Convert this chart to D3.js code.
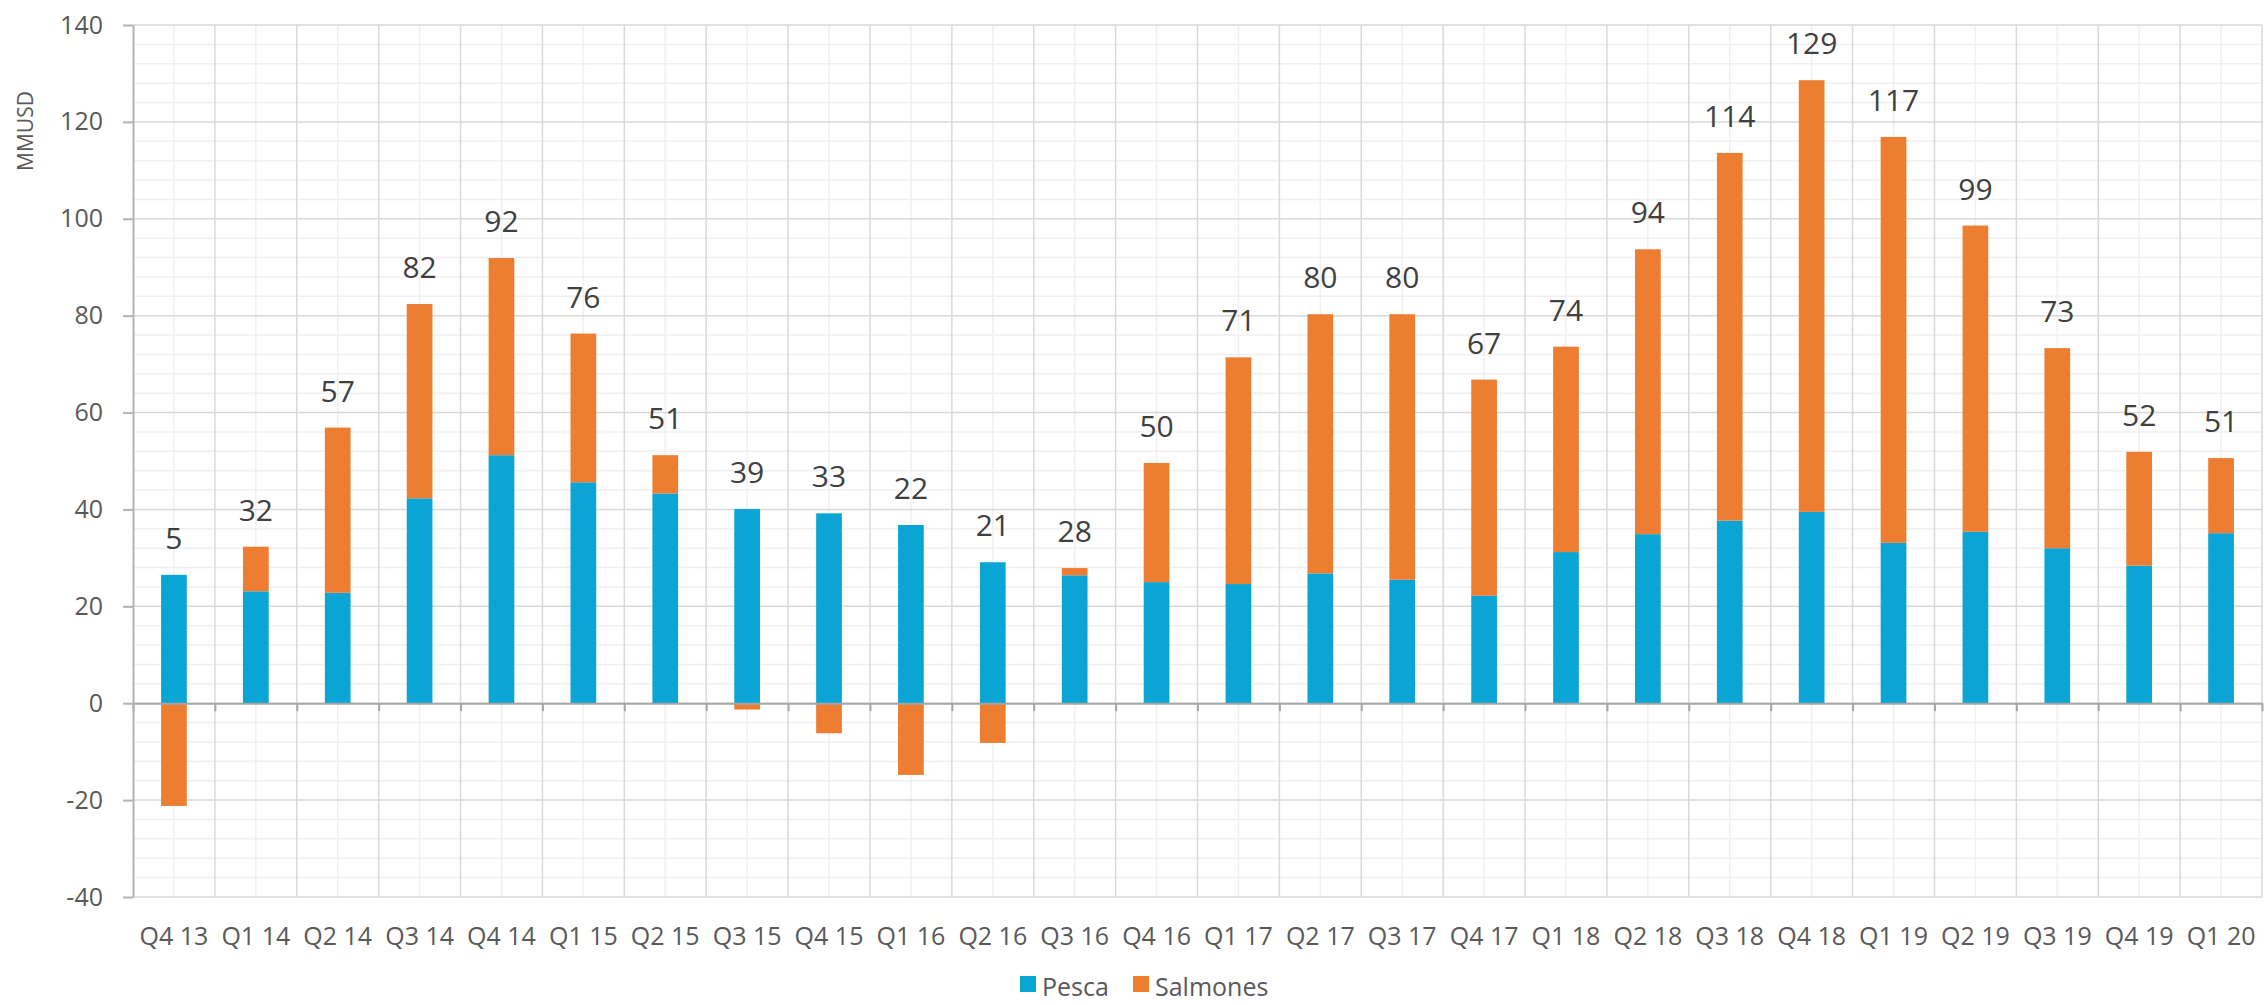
<!DOCTYPE html>
<meta charset="utf-8">
<script src="https://d3js.org/d3.v7.min.js"></script>
<style>
  body { margin: 0; background: #fff; }
  text { font-family: "Open Sans", sans-serif; }
</style>
<div id="chart"></div>
<script>

// quarters on the x axis
var quarters = ["Q4 13","Q1 14","Q2 14","Q3 14","Q4 14","Q1 15","Q2 15","Q3 15","Q4 15",
  "Q1 16","Q2 16","Q3 16","Q4 16","Q1 17","Q2 17","Q3 17","Q4 17","Q1 18","Q2 18",
  "Q3 18","Q4 18","Q1 19","Q2 19","Q3 19","Q4 19","Q1 20"];

// MMUSD per series
var pesca = [26.5, 23.1, 22.8, 42.3, 51.2, 45.6, 43.3, 40.1, 39.2, 36.8, 29.1, 26.4, 25.0,
  24.6, 26.8, 25.5, 22.2, 31.2, 34.9, 37.7, 39.5, 33.1, 35.4, 32.0, 28.4, 35.1];
var salmones = [-21.2, 9.2, 34.1, 40.1, 40.7, 30.7, 7.9, -1.3, -6.2, -14.8, -8.2, 1.5, 24.6,
  46.8, 53.5, 54.8, 44.6, 42.4, 58.8, 75.9, 89.1, 83.8, 63.2, 41.3, 23.5, 15.5];

var yTicks = [-40, -20, 0, 20, 40, 60, 80, 100, 120, 140];

var seriesNames = ["Pesca", "Salmones"];
var colors = {"Pesca": "#0aa5d4", "Salmones": "#ed7d31"};

var rows = quarters.map(function(q, i) {
  return {q: q, Pesca: pesca[i], Salmones: salmones[i]};
});

var W = 2264, H = 1005;
var margin = {top: 25, right: 2, bottom: 108, left: 133},
    width = W - margin.left - margin.right,
    height = H - margin.top - margin.bottom;

var root = d3.select("#chart").append("svg")
    .attr("width", W)
    .attr("height", H);

var svg = root.append("g")
    .attr("transform", "translate(" + margin.left + "," + margin.top + ")");

var x = d3.scaleBand()
    .domain(quarters)
    .range([0, width])
    .paddingInner(0.686)
    .paddingOuter(0.343);

// category boundaries (for gridlines and ticks)
var xb = d3.scaleLinear().domain([0, quarters.length]).range([0, width]);

var y = d3.scaleLinear()
    .domain([-40, 140])
    .range([height, 0]);

// minor horizontal gridlines
svg.append("g").selectAll("line")
  .data(d3.range(-40, 141, 4).filter(function(v) { return v % 20 !== 0; }))
  .join("line")
    .attr("x1", 0).attr("x2", width)
    .attr("y1", function(d) { return y(d); })
    .attr("y2", function(d) { return y(d); })
    .attr("stroke", "#f0f0f0").attr("stroke-width", 1.5);

// minor vertical gridlines at category centres
svg.append("g").selectAll("line")
  .data(quarters)
  .join("line")
    .attr("x1", function(d) { return x(d) + x.bandwidth() / 2; })
    .attr("x2", function(d) { return x(d) + x.bandwidth() / 2; })
    .attr("y1", 0).attr("y2", height)
    .attr("stroke", "#f0f0f0").attr("stroke-width", 1.5);

// major horizontal gridlines
svg.append("g").selectAll("line")
  .data(yTicks)
  .join("line")
    .attr("x1", 0).attr("x2", width)
    .attr("y1", function(d) { return y(d); })
    .attr("y2", function(d) { return y(d); })
    .attr("stroke", "#d9d9d9").attr("stroke-width", 1.5);

// major vertical gridlines at category boundaries
svg.append("g").selectAll("line")
  .data(d3.range(1, quarters.length + 1))
  .join("line")
    .attr("x1", function(d) { return xb(d); })
    .attr("x2", function(d) { return xb(d); })
    .attr("y1", 0).attr("y2", height)
    .attr("stroke", "#d9d9d9").attr("stroke-width", 1.5);

// stacked bars
var stack = d3.stack()
    .keys(seriesNames)
    .offset(d3.stackOffsetDiverging);
var layers = stack(rows);

svg.append("g").selectAll("g")
  .data(layers)
  .join("g")
    .attr("fill", function(d) { return colors[d.key]; })
  .selectAll("rect")
  .data(function(d) { return d; })
  .join("rect")
    .attr("x", function(d) { return x(d.data.q); })
    .attr("width", x.bandwidth())
    .attr("y", function(d) { return y(Math.max(d[0], d[1])); })
    .attr("height", function(d) { return Math.abs(y(d[0]) - y(d[1])); });

// zero axis with ticks at category boundaries
var zeroAxis = svg.append("g")
    .attr("transform", "translate(0," + y(0) + ")")
    .call(d3.axisBottom(xb).tickValues(d3.range(0, quarters.length + 1)).tickSize(8).tickSizeOuter(0).tickFormat(""));
zeroAxis.select(".domain").attr("stroke", "#a6a6a6").attr("stroke-width", 2);
zeroAxis.selectAll(".tick line").attr("stroke", "#a6a6a6").attr("stroke-width", 2);

// category labels
var xAxis = svg.append("g")
    .attr("transform", "translate(0," + height + ")")
    .call(d3.axisBottom(x).tickSize(0).tickPadding(30));
xAxis.select(".domain").remove();
xAxis.selectAll("text")
    .style("font-family", "'Open Sans', sans-serif")
    .style("font-size", "25px")
    .attr("fill", "#595959");

// y axis (plain hyphen for negatives, like the original)
var yAxis = svg.append("g")
    .call(d3.axisLeft(y).tickValues(yTicks).tickSize(10).tickPadding(20).tickSizeOuter(0)
      .tickFormat(function(d) { return String(d); }));
yAxis.select(".domain").attr("stroke", "#b3b3b3").attr("stroke-width", 2);
yAxis.selectAll(".tick line").attr("stroke", "#b3b3b3").attr("stroke-width", 2);
yAxis.selectAll("text")
    .style("font-family", "'Open Sans', sans-serif")
    .style("font-size", "25px")
    .attr("fill", "#595959");

// total labels above each bar
svg.append("g").selectAll("text")
  .data(rows)
  .join("text")
    .attr("x", function(d) { return x(d.q) + x.bandwidth() / 2; })
    .attr("y", function(d) { return y(Math.max(d.Pesca, d.Pesca + d.Salmones)) - 26; })
    .attr("text-anchor", "middle")
    .style("font-size", "30px")
    .attr("fill", "#404040")
    .text(function(d) { return Math.round(d.Pesca + d.Salmones); });

// y axis title
root.append("text")
    .attr("transform", "translate(33,131) rotate(-90)")
    .attr("text-anchor", "middle")
    .style("font-size", "21px")
    .attr("fill", "#595959")
    .text("MMUSD");

// legend
var legend = root.append("g").attr("transform", "translate(1020,976)");
var lx = [0, 113];
seriesNames.forEach(function(name, i) {
  legend.append("rect")
      .attr("x", lx[i]).attr("y", 0)
      .attr("width", 16).attr("height", 16)
      .attr("fill", colors[name]);
  legend.append("text")
      .attr("x", lx[i] + 22).attr("y", 17)
      .attr("dy", "0.1em")
      .style("font-size", "25px")
      .attr("fill", "#595959")
      .text(name);
});

</script>
